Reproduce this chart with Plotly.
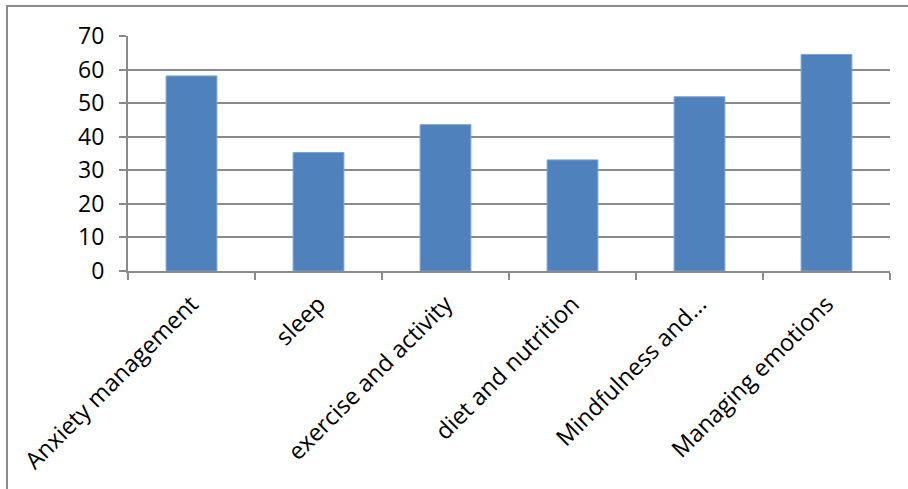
import plotly.graph_objects as go

categories = ["Anxiety management", "sleep", "exercise and activity",
              "diet and nutrition", "Mindfulness and...", "Managing emotions"]
values = [58.1, 35.3, 43.6, 33.1, 51.9, 64.5]
y_ticks = [0, 10, 20, 30, 40, 50, 60, 70]

W, H = 908, 489
L, R, T, B = 128, 18, 36, 218
pw = W - L - R
ph = H - T - B

fig = go.Figure(go.Bar(
    x=categories, y=values,
    marker=dict(color="#4F81BD", line=dict(color="#7EA3D3", width=1)),
))

GRID = "#8A8A8A"
FONT = "Open Sans"

fig.update_layout(
    width=W, height=H,
    margin=dict(l=L, r=R, t=T, b=B, pad=0),
    paper_bgcolor="white", plot_bgcolor="white",
    bargap=0.6, showlegend=False,
    font=dict(family=FONT, size=22, color="#000000"),
    xaxis=dict(
        type="category", tickangle=-45, showgrid=False,
        showline=True, linecolor=GRID, linewidth=2,
        ticks="outside", tickson="boundaries", ticklen=7, tickcolor=GRID, tickwidth=2,
        ticklabelstandoff=8,
        tickfont=dict(family=FONT, size=23.5, color="#000"),
    ),
    yaxis=dict(
        range=[0, 70], tickvals=y_ticks, ticktext=[str(v) for v in y_ticks],
        showgrid=True, gridcolor=GRID, gridwidth=2,
        showline=True, linecolor=GRID, linewidth=2,
        ticks="outside", ticklen=7, tickcolor=GRID, tickwidth=2,
        ticklabelstandoff=10, zeroline=False,
        tickfont=dict(family=FONT, size=23, color="#000"),
    ),
    shapes=[dict(
        type="rect", xref="paper", yref="paper",
        x0=(7 - L) / pw, x1=1.2,
        y0=-1.5, y1=1 + (T - 6) / ph,
        line=dict(color="#8C8C8C", width=2), layer="below",
    )],
)

fig.write_html("out.html")
